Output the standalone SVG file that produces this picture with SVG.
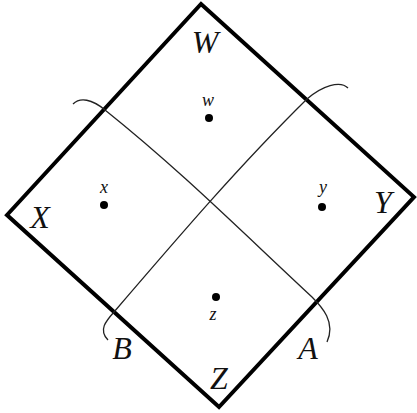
<svg xmlns="http://www.w3.org/2000/svg" width="417" height="413" viewBox="0 0 417 413">
<style>
.big{font-family:"Liberation Serif","DejaVu Serif",serif;font-style:italic;font-size:32px;fill:#111;text-anchor:middle}
.small{font-family:"Liberation Serif","DejaVu Serif",serif;font-style:italic;font-size:18px;fill:#111;text-anchor:middle}
.dot{fill:#000}
.curve{fill:none;stroke:#222;stroke-width:1.3}
</style>
<rect width="417" height="413" fill="#fff"/>
<g id="diamond">
<polygon points="201,4 414,197 219,407 7,215" fill="none" stroke="#000" stroke-width="4" stroke-linejoin="miter"/>
</g>
<g id="connectors">
<path class="curve" d="M73,104 C80,97 92,99 105,110 C180,170 240,230 312,297 C322,307 336,322 327,342"/>
<path class="curve" d="M348,88 C340,80 322,86 307,99 C240,165 180,235 114,312 C106,321 98,330 108,340"/>
</g>
<g id="W"><text class="big" x="205" y="53">W</text></g>
<g id="X"><text class="big" x="40" y="228">X</text></g>
<g id="Y"><text class="big" x="383" y="213">Y</text></g>
<g id="Z"><text class="big" x="219" y="389">Z</text></g>
<g id="A"><text class="big" x="308" y="359">A</text></g>
<g id="B"><text class="big" x="122" y="359">B</text></g>
<g id="w"><circle class="dot" cx="209" cy="118" r="4"/><text class="small" x="208" y="106">w</text></g>
<g id="x"><circle class="dot" cx="104" cy="205" r="4"/><text class="small" x="104" y="193">x</text></g>
<g id="y"><circle class="dot" cx="322" cy="207" r="4"/><text class="small" x="323" y="193">y</text></g>
<g id="z"><circle class="dot" cx="216" cy="297" r="4"/><text class="small" x="213" y="320">z</text></g>
</svg>
